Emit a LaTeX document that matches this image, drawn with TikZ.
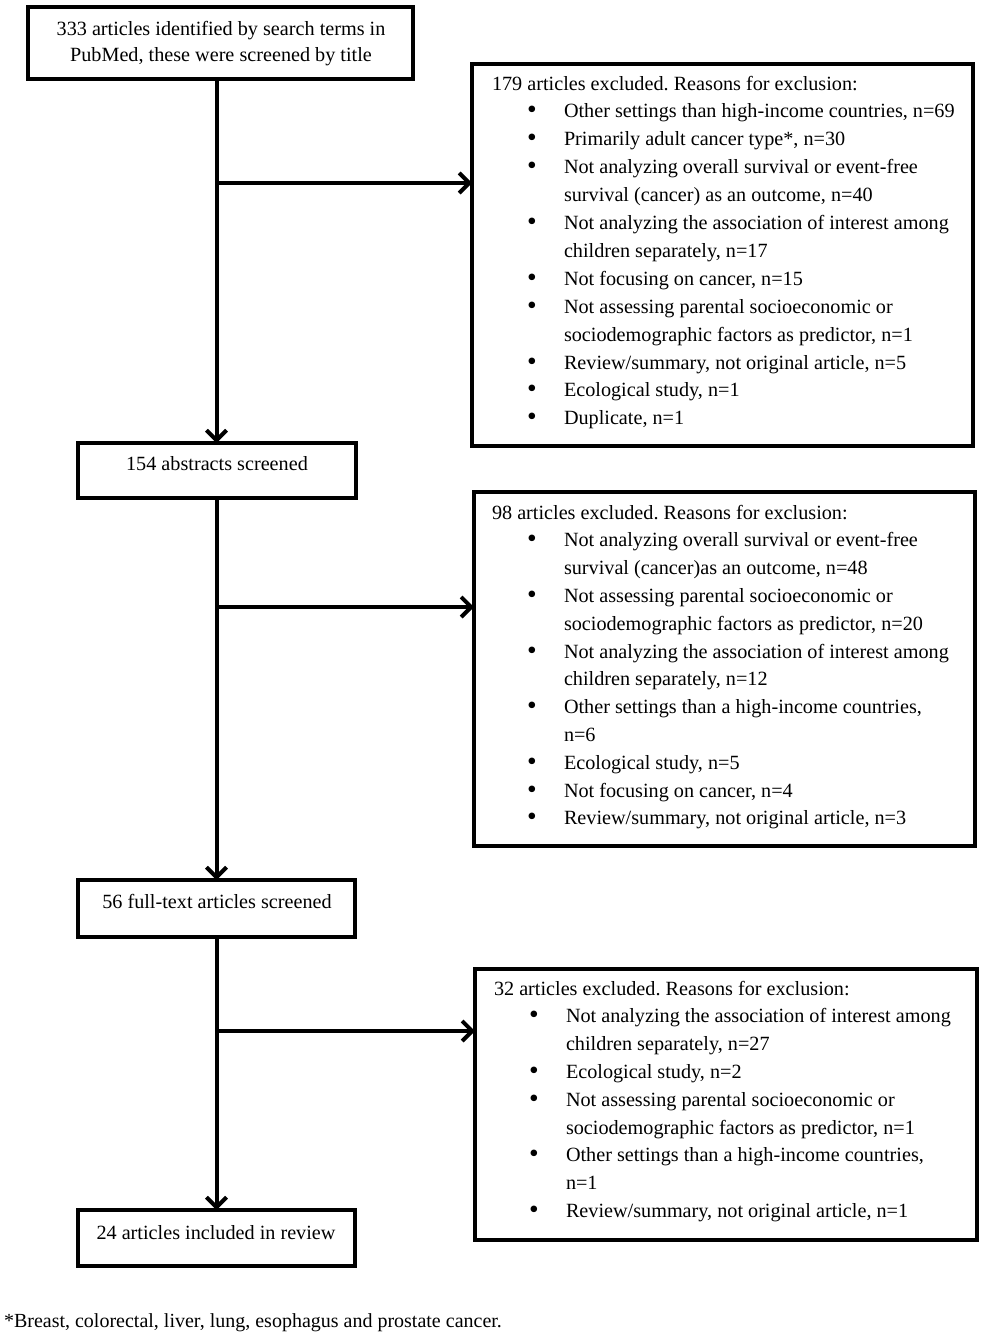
\documentclass[tikz,border=0pt]{standalone}
\usepackage{fontspec}
\setmainfont{Liberation Serif}
\usetikzlibrary{arrows.meta}
\frenchspacing
\newcommand\hl[1]{\hbox{#1}}
\newcommand\bigbul{\raisebox{-0.5pt}{\fontsize{13.8}{14}\selectfont\textbullet}}
\newcommand\bl[1]{\hbox{\hspace*{17.5pt}\makebox[18.5pt][l]{\bigbul}#1}}
\newcommand\cl[1]{\hbox{\hspace*{36pt}#1}}
\newcommand\ctrline[1]{\hbox to 0pt{\hss #1\hss}}
\begin{document}
\begin{tikzpicture}[x=0.5pt,y=-0.5pt,
  every node/.style={font=\fontsize{10.1}{13.9}\selectfont},
  box/.style={draw, line width=2pt, inner sep=0pt, outer sep=0pt},
  txt/.style={inner sep=0pt, outer sep=0pt},
  arr/.style={line width=2pt, -{Straight Barb[length=5pt,width=10pt]}}]
\useasboundingbox (0,0) rectangle (985,1339);
% main boxes
\node[box, minimum width=192.5pt, minimum height=36pt] (b1) at (220.5,43) {};
\node[box, minimum width=139pt, minimum height=27.5pt] (b2) at (216.5,470.5) {};
\node[box, minimum width=138.5pt, minimum height=28.5pt] (b3) at (216.5,908.5) {};
\node[box, minimum width=138.5pt, minimum height=28pt] (b4) at (216.5,1238) {};
% exclusion boxes
\node[box, minimum width=250.5pt, minimum height=191pt] (exA) at (722.5,255) {};
\node[box, minimum width=250.5pt, minimum height=177pt] (exB) at (724.5,669) {};
\node[box, minimum width=251pt, minimum height=135.5pt] (exC) at (726,1104.5) {};
% main box texts
\node[txt, anchor=base] (t1) at (221,35) {\vtop{\baselineskip=13pt
  \ctrline{333 articles identified by search terms in}
  \ctrline{PubMed, these were screened by title}}};
\node[txt, anchor=base] (t2) at (217,470.5) {154 abstracts screened};
\node[txt, anchor=base] (t3) at (217,908) {56 full-text articles screened};
\node[txt, anchor=base] (t4) at (216,1239) {24 articles included in review};
% exclusion texts
\node[txt, anchor=base west] (tA) at (492,90) {\vtop{\baselineskip=13.95pt
  \hl{179 articles excluded. Reasons for exclusion:}
  \bl{Other settings than high-income countries, n=69}
  \bl{Primarily adult cancer type*, n=30}
  \bl{Not analyzing overall survival or event-free}
  \cl{survival (cancer) as an outcome, n=40}
  \bl{Not analyzing the association of interest among}
  \cl{children separately, n=17}
  \bl{Not focusing on cancer, n=15}
  \bl{Not assessing parental socioeconomic or}
  \cl{sociodemographic factors as predictor, n=1}
  \bl{Review/summary, not original article, n=5}
  \bl{Ecological study, n=1}
  \bl{Duplicate, n=1}}};
\node[txt, anchor=base west] (tB) at (492,519) {\vtop{\baselineskip=13.9pt
  \hl{98 articles excluded. Reasons for exclusion:}
  \bl{Not analyzing overall survival or event-free}
  \cl{survival (cancer)as an outcome, n=48}
  \bl{Not assessing parental socioeconomic or}
  \cl{sociodemographic factors as predictor, n=20}
  \bl{Not analyzing the association of interest among}
  \cl{children separately, n=12}
  \bl{Other settings than a high-income countries,}
  \cl{n=6}
  \bl{Ecological study, n=5}
  \bl{Not focusing on cancer, n=4}
  \bl{Review/summary, not original article, n=3}}};
\node[txt, anchor=base west] (tC) at (494,995) {\vtop{\baselineskip=13.9pt
  \hl{32 articles excluded. Reasons for exclusion:}
  \bl{Not analyzing the association of interest among}
  \cl{children separately, n=27}
  \bl{Ecological study, n=2}
  \bl{Not assessing parental socioeconomic or}
  \cl{sociodemographic factors as predictor, n=1}
  \bl{Other settings than a high-income countries,}
  \cl{n=1}
  \bl{Review/summary, not original article, n=1}}};
% footnote
\node[txt, anchor=base west, font=\fontsize{10}{12}\selectfont] (fn) at (4,1327) {*Breast, colorectal, liver, lung, esophagus and prostate cancer.};
% connectors
\coordinate (jA) at (216.5,183);
\coordinate (jB) at (216.5,607);
\coordinate (jC) at (216.5,1031);
\draw[arr] (b1.south -| b2.north) -- (b2.north);
\draw[arr] (b2.south) -- (b3.north);
\draw[arr] (b3.south) -- (b4.north);
\draw[arr] (jA) -- (jA -| exA.west);
\draw[arr] (jB) -- (jB -| exB.west);
\draw[arr] (jC) -- (jC -| exC.west);
\end{tikzpicture}
\end{document}
